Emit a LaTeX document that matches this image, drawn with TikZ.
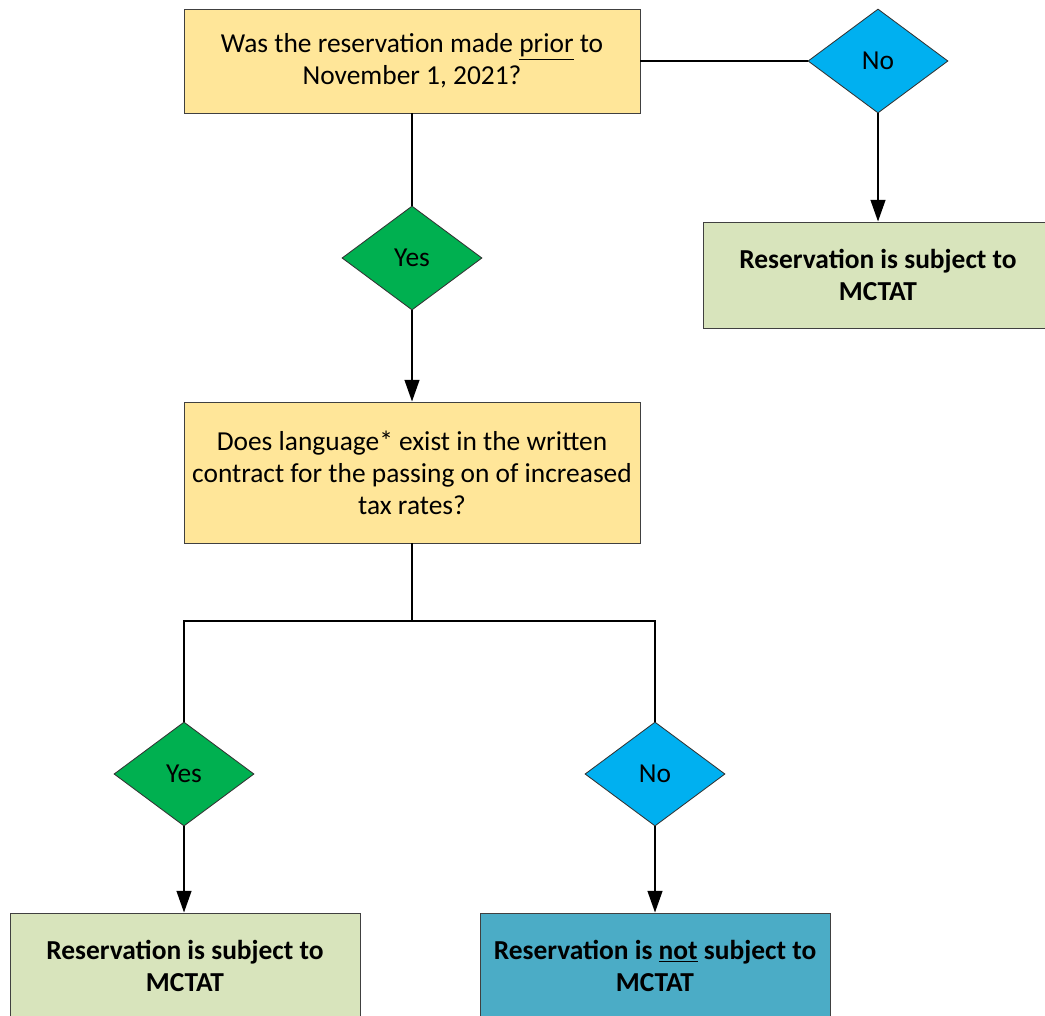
\documentclass[tikz,border=0pt]{standalone}
\usepackage{fontspec}
\setmainfont{Carlito}
\usetikzlibrary{positioning,arrows.meta,shapes.geometric}

\definecolor{qyellow}{HTML}{FFE699}
\definecolor{ygreen}{HTML}{00B050}
\definecolor{nblue}{HTML}{00B0F0}
\definecolor{rgreen}{HTML}{D8E4BC}
\definecolor{rteal}{HTML}{4BACC6}

\begin{document}
\begin{tikzpicture}[
    x=0.025cm, y=-0.025cm,
    qbox/.style={draw=black!75, line width=0.6pt, fill=qyellow, minimum width=11.4cm, align=center, inner sep=0pt, font=\fontsize{19.5}{22.8}\selectfont},
    rbox/.style={draw=black!75, line width=0.6pt, minimum width=8.75cm, minimum height=2.65cm, align=center, inner sep=0pt, font=\fontsize{19.5}{22.8}\selectfont\bfseries},
    dec/.style={diamond, draw=black!80, line width=0.6pt, minimum width=3.5cm, minimum height=2.6cm, inner sep=0pt, font=\fontsize{19.5}{22.8}\selectfont},
    conn/.style={line width=1.5pt},
    arr/.style={line width=1.5pt, -{Triangle[length=15.5pt, width=10.5pt]}},
]
\useasboundingbox (0,0) rectangle (1045,1015);

\node[qbox, minimum height=2.6cm] (q1) at (412,61) {Was the reservation made \underline{prior} to\\November 1, 2021?};
\node[dec, fill=nblue] (no1) at (878,61) {No};
\node[rbox, fill=rgreen] (r1) at (878,275) {Reservation is subject to\\MCTAT};
\node[dec, fill=ygreen] (yes1) at (412,258) {Yes};
\node[qbox, minimum height=3.525cm] (q2) at (412,472.5) {Does language* exist in the written\\contract for the passing on of increased\\tax rates?};
\coordinate (split) at (412,621);
\node[dec, fill=ygreen] (yes2) at (184,774) {Yes};
\node[dec, fill=nblue] (no2) at (655,774) {No};
\node[rbox, fill=rgreen] (r2) at (185,966) {Reservation is subject to\\MCTAT};
\node[rbox, fill=rteal] (r3) at (655,966) {Reservation is \underline{not} subject to\\MCTAT};

\draw[conn] (q1) -- (no1);
\draw[arr] (no1) -- (r1);
\draw[conn] (q1) -- (yes1);
\draw[arr] (yes1) -- (q2);
\draw[conn] (q2) -- (split);
\draw[conn] (yes2.north) |- (split) -| (no2.north);
\draw[arr] (yes2) -- (r2.north -| yes2);
\draw[arr] (no2) -- (r3);
\end{tikzpicture}
\end{document}
